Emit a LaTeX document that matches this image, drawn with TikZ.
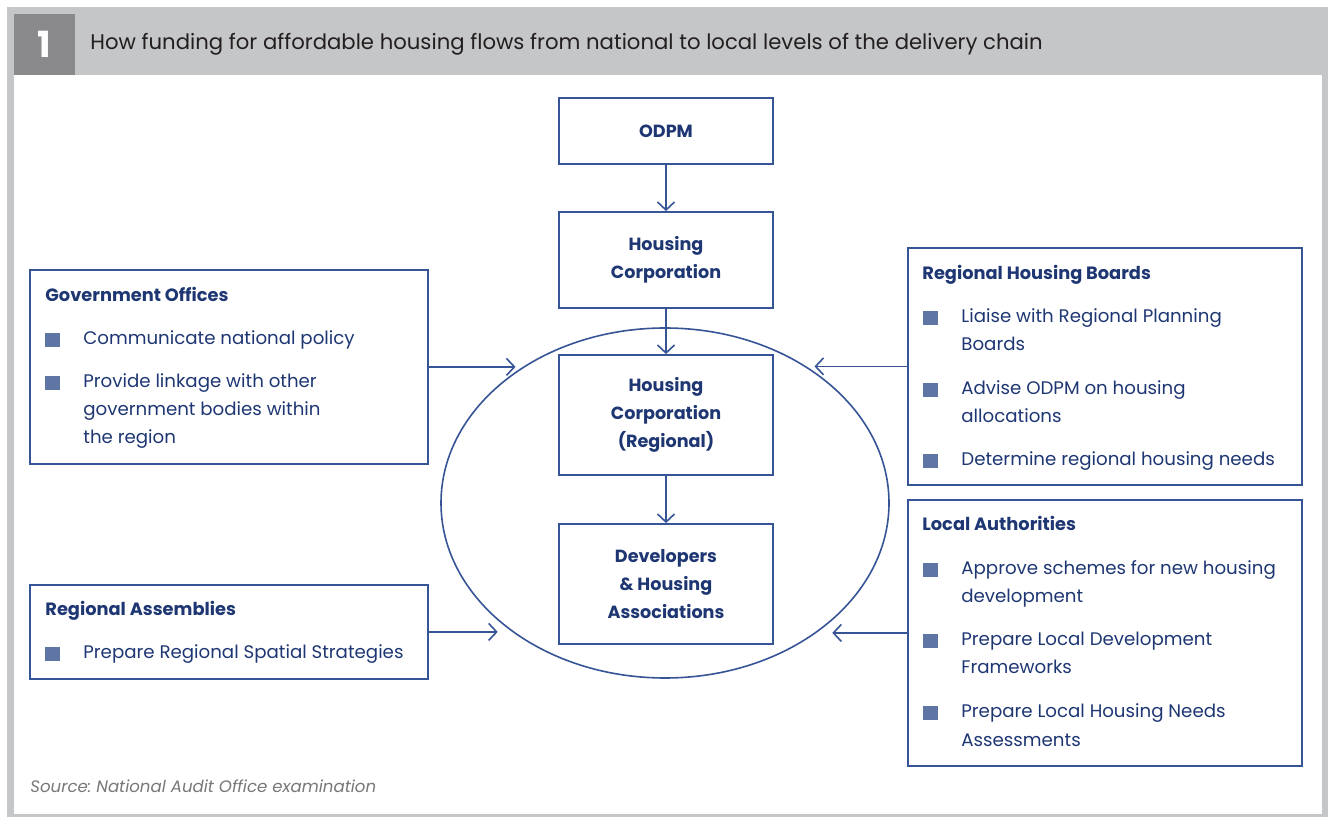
\documentclass[tikz,border=0pt]{standalone}
\usepackage{fontspec}
\setmainfont{Poppins}
\frenchspacing
\usetikzlibrary{arrows.meta, positioning, shapes.geometric}
\definecolor{navy}{RGB}{30,55,115}
\definecolor{boxblue}{RGB}{55,85,150}
\definecolor{bulletblue}{RGB}{95,118,165}
\definecolor{framegray}{RGB}{197,198,200}
\definecolor{numgray}{RGB}{138,138,140}
\definecolor{titletxt}{RGB}{35,31,32}
\definecolor{srcgray}{RGB}{120,120,122}

\begin{document}
\begin{tikzpicture}[x=0.5pt, y=-0.5pt,
    txt/.style={text=navy, inner sep=0pt, anchor=base west, align=left, font=\fontsize{9.1}{14}\selectfont},
    head/.style={txt, font=\bfseries\fontsize{8.9}{14}\selectfont},
    bullet/.style={fill=bulletblue, inner sep=0pt, minimum size=7.3pt},
    chain/.style={draw=boxblue, line width=0.9pt, text=navy, align=center,
                  font=\bfseries\fontsize{8.8}{14}\selectfont, minimum width=107pt},
    panel/.style={draw=boxblue, line width=0.9pt, inner sep=0pt, anchor=north west},
    flow/.style={draw=boxblue, line width=0.8pt, -{Straight Barb[length=4pt, width=8.5pt]}}]
    \useasboundingbox (0,0) rectangle (1328,817);
    % frame and header
    \fill[framegray] (7,7) rectangle (1328,817);
    \fill[white] (14,75) rectangle (1322,814);
    \node[fill=numgray, minimum size=30.5pt, inner sep=0pt, text=white,
          font=\bfseries\fontsize{18}{18}\selectfont] (num) at (44.5,44.5) {1};
    \node[anchor=base west, inner sep=0pt, text=titletxt, font=\fontsize{10.6}{14}\selectfont] (title) at (90,50)
        {How funding for affordable housing flows from national to local levels of the delivery chain};

    % delivery chain
    \node[ellipse, draw=boxblue, line width=0.8pt, minimum width=224pt, minimum height=175pt, inner sep=0pt] (ring) at (665,503) {};
    \node[chain, minimum height=33pt] (odpm) at (666,131) {ODPM};
    \node[chain, minimum height=48pt] (hc) at (666,260) {Housing\\Corporation};
    \node[chain, minimum height=60pt] (hcr) at (666,415) {Housing\\Corporation\\(Regional)};
    \node[chain, minimum height=60pt] (dev) at (666,584) {Developers\\\& Housing\\Associations};
    \draw[flow] (odpm) -- (hc);
    \draw[flow] (hc) -- (hcr);
    \draw[flow] (hcr) -- (dev);

    % side panels
    \node[panel, minimum width=199pt, minimum height=97pt] (gov) at (29,269) {};
    \node[panel, minimum width=199pt, minimum height=47pt] (ra) at (29,584) {};
    \node[panel, minimum width=197pt, minimum height=118.5pt] (rhb) at (907,247) {};
    \node[panel, minimum width=197pt, minimum height=133pt] (la) at (907,499) {};

    % bullets: first baseline / number of lines / text
    \node[head] (gov-h) at (45,302) {Government Offices};
    \foreach \y/\n/\t [count=\i] in {345/1/Communicate national policy,
                                     388/3/{Provide linkage with other\\government bodies within\\the region}} {
        \node[bullet] (gov-b\i) at (52.5,\y-5) {};
        \node[txt] (gov-t\i) at (83,\y+28*\n-28) {\t};
    }
    \node[head] (ra-h) at (45,616) {Regional Assemblies};
    \node[bullet] (ra-b1) at (52.5,654) {};
    \node[txt] (ra-t1) at (83,659) {Prepare Regional Spatial Strategies};

    \node[head] (rhb-h) at (922,280) {Regional Housing Boards};
    \foreach \y/\n/\t [count=\i] in {323/2/{Liaise with Regional Planning\\Boards},
                                     395/2/{Advise ODPM on housing\\allocations},
                                     466/1/Determine regional housing needs} {
        \node[bullet] (rhb-b\i) at (930.5,\y-5) {};
        \node[txt] (rhb-t\i) at (961,\y+28*\n-28) {\t};
    }
    \node[head] (la-h) at (922,531) {Local Authorities};
    \foreach \y/\n/\t [count=\i] in {575/2/{Approve schemes for new housing\\development},
                                     646/2/{Prepare Local Development\\Frameworks},
                                     718/2/{Prepare Local Housing Needs\\Assessments}} {
        \node[bullet] (la-b\i) at (930.5,\y-5) {};
        \node[txt] (la-t\i) at (961,\y+28*\n-28) {\t};
    }

    % inputs to the regional level
    \draw[flow, shorten >=7pt] (gov.east) -- (gov.east -| ring.134);
    \draw[flow, shorten >=7pt] (ra.east) -- (ra.east -| ring.220);
    \draw[flow, shorten >=7pt] (rhb.west) -- (rhb.west -| ring.46);
    \draw[flow, shorten >=7pt] (la.west) -- (la.west -| ring.320);

    \node[anchor=base west, inner sep=0pt, text=srcgray, font=\itshape\fontsize{8.3}{11}\selectfont] (src) at (30,792)
        {Source: National Audit Office examination};
\end{tikzpicture}
\end{document}
